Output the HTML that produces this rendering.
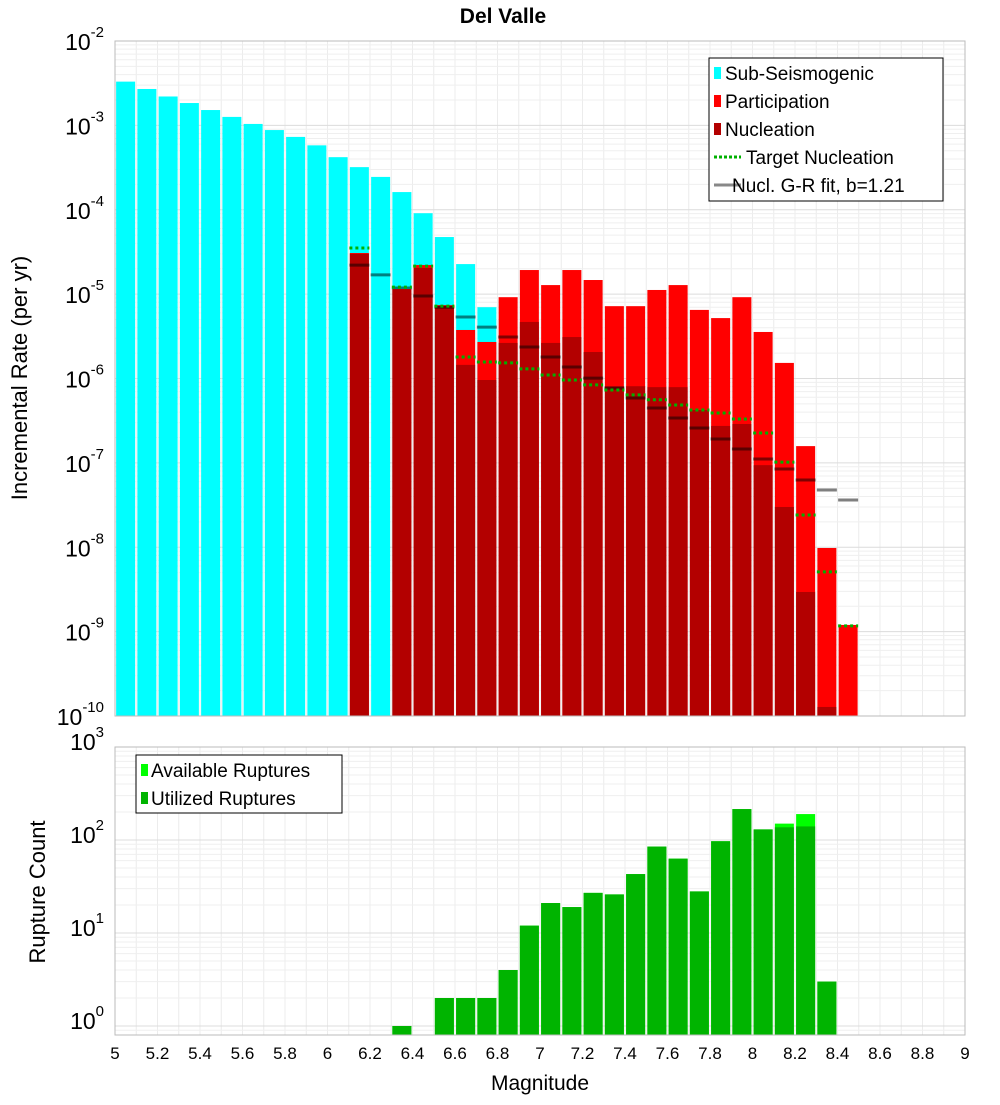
<!DOCTYPE html>
<html><head><meta charset="utf-8"><style>
html,body{margin:0;padding:0;background:#fff;}
svg text{font-family:"Liberation Sans","DejaVu Sans",sans-serif;}
</style></head><body>
<svg id="chart" width="1000" height="1100" viewBox="0 0 1000 1100" xmlns="http://www.w3.org/2000/svg">
<text x="503" y="23" text-anchor="middle" font-size="21" font-weight="bold">Del Valle</text>
<g id="topPlot"></g><g id="botPlot"></g>
<text transform="translate(27,378) rotate(-90)" text-anchor="middle" font-size="22">Incremental Rate (per yr)</text>
<text transform="translate(45,892) rotate(-90)" text-anchor="middle" font-size="22">Rupture Count</text>
<text x="540" y="1090" text-anchor="middle" font-size="21">Magnitude</text>
</svg>
<script>
const subMags=[5.05,5.15,5.25,5.35,5.45,5.55,5.65,5.75,5.85,5.95,6.05,6.15,6.25,6.35,6.45,6.55,6.65,6.75];
const subRates=[3.3e-3,2.7e-3,2.2e-3,1.84e-3,1.52e-3,1.26e-3,1.04e-3,8.8e-4,7.3e-4,5.8e-4,4.2e-4,3.2e-4,2.45e-4,1.62e-4,9.1e-5,4.75e-5,2.27e-5,7.0e-6];
const partMags=[6.15,6.35,6.45,6.55,6.65,6.75,6.85,6.95,7.05,7.15,7.25,7.35,7.45,7.55,7.65,7.75,7.85,7.95,8.05,8.15,8.25,8.35,8.45];
const partRates=[3.07e-5,1.15e-5,2.21e-5,7.4e-6,3.76e-6,2.71e-6,9.2e-6,1.93e-5,1.28e-5,1.93e-5,1.47e-5,7.2e-6,7.2e-6,1.12e-5,1.28e-5,6.5e-6,5.2e-6,9.2e-6,3.56e-6,1.53e-6,1.58e-7,9.8e-9,1.2e-9];
const nuclMags=[6.15,6.35,6.45,6.55,6.65,6.75,6.85,6.95,7.05,7.15,7.25,7.35,7.45,7.55,7.65,7.75,7.85,7.95,8.05,8.15,8.25,8.35];
const nuclRates=[3.0e-5,1.12e-5,2.04e-5,7.2e-6,1.45e-6,9.6e-7,2.64e-6,4.68e-6,2.64e-6,3.1e-6,2.06e-6,8.1e-7,8.1e-7,7.9e-7,7.9e-7,4.23e-7,2.74e-7,2.89e-7,9.4e-8,3.0e-8,2.95e-9,1.28e-10];
const targetMags=partMags;
const targetRates=[3.52e-5,1.21e-5,2.15e-5,7.2e-6,1.8e-6,1.57e-6,1.53e-6,1.3e-6,1.1e-6,9.6e-7,8.4e-7,7.3e-7,6.4e-7,5.6e-7,4.85e-7,4.23e-7,3.9e-7,3.31e-7,2.26e-7,1.02e-7,2.41e-8,5.1e-9,1.17e-9];
const grMags=[6.15,6.25,6.35,6.45,6.55,6.65,6.75,6.85,6.95,7.05,7.15,7.25,7.35,7.45,7.55,7.65,7.75,7.85,7.95,8.05,8.15,8.25,8.35,8.45];
const grRates=[2.21e-5,1.69e-5,1.18e-5,9.5e-6,7.0e-6,5.35e-6,4.07e-6,3.1e-6,2.36e-6,1.8e-6,1.37e-6,1.01e-6,7.7e-7,5.87e-7,4.47e-7,3.4e-7,2.59e-7,1.92e-7,1.46e-7,1.11e-7,8.45e-8,6.26e-8,4.77e-8,3.63e-8];
const cntMags=[6.35,6.55,6.65,6.75,6.85,6.95,7.05,7.15,7.25,7.35,7.45,7.55,7.65,7.75,7.85,7.95,8.05,8.15,8.25,8.35];
const availCounts=[1,2,2,2,4,12,21,19,27,26,43,85,63,28,97,215,130,150,190,3];
const usedCounts=[1,2,2,2,4,12,21,19,27,26,43,85,63,28,97,215,130,137,140,3];
const xTicks=[5,5.2,5.4,5.6,5.8,6,6.2,6.4,6.6,6.8,7,7.2,7.4,7.6,7.8,8,8.2,8.4,8.6,8.8,9];
const topExps=[-2,-3,-4,-5,-6,-7,-8,-9,-10];
const botExps=[3,2,1,0];

const NS="http://www.w3.org/2000/svg";
const L=115,R=965;
const X=m=>L+(m-5)*(R-L)/4;
const TT=41,TB=716;
const Yt=v=>TT+(-2-Math.log10(v))*(TB-TT)/8;
const BT=747,BB=1035;
const Yb=v=>1026-(Math.log10(v))*93;
function mk(p,tag,a){const e=document.createElementNS(NS,tag);for(const k in a)e.setAttribute(k,a[k]);p.appendChild(e);return e;}
const gTop=document.getElementById('topPlot'),gBot=document.getElementById('botPlot');



function frame(g,yT,yB,Yf,lo,hi){
  mk(g,'rect',{x:L,y:yT,width:R-L,height:yB-yT,fill:'#fff'});
  for(let i=0;i<=40;i++){const x=X(5+i*0.1);mk(g,'line',{x1:x,x2:x,y1:yT,y2:yB,stroke:'#ececec','stroke-width':1});}
  for(let e=lo;e<hi;e++){for(let k=1;k<10;k++){const y=Yf(k*Math.pow(10,e));if(y<yT-0.5||y>yB+0.5)continue;mk(g,'line',{x1:L,x2:R,y1:y,y2:y,stroke:k==1?'#dcdcdc':'#efefef','stroke-width':1});}}
}
frame(gTop,TT,TB,Yt,-10,-1);
frame(gBot,BT,BB,Yb,-1,3);

const bw=19;
function bars(g,mags,vals,Yf,base,color,name){
  mags.forEach((m,i)=>{const y=Yf(vals[i]);const r=mk(g,'rect',{x:X(m)-bw/2,y:y,width:bw,height:Math.max(0,base-y),fill:color});
  
  });
}
bars(gTop,subMags,subRates,Yt,TB,'#00ffff','sub-seismogenic-bar');
bars(gTop,partMags,partRates,Yt,TB,'#ff0000','participation-bar');
bars(gTop,nuclMags,nuclRates,Yt,TB,'#b30000','nucleation-bar');
grMags.forEach((m,i)=>{const y=Yt(grRates[i]);const l=mk(gTop,'line',{x1:X(m)-10,x2:X(m)+10,y1:y,y2:y,stroke:'rgba(0,0,0,0.5)','stroke-width':3});

});
targetMags.forEach((m,i)=>{const y=Yt(targetRates[i]);const l=mk(gTop,'line',{x1:X(m)-10,x2:X(m)+10,y1:y,y2:y,stroke:'#00b000','stroke-width':3,'stroke-dasharray':'3,3'});

});

bars(gBot,cntMags,availCounts,Yb,BB,'#00ff00','available-ruptures-bar');
bars(gBot,cntMags,usedCounts,Yb,BB,'#00b400','utilized-ruptures-bar');

mk(gTop,'rect',{x:L,y:TT,width:R-L,height:TB-TT,fill:'none',stroke:'#bbb'});
mk(gBot,'rect',{x:L,y:BT,width:R-L,height:BB-BT,fill:'none',stroke:'#bbb'});

function ylab(g,y,e,name){const t=mk(g,'text',{x:104,y:y+9,'text-anchor':'end','font-size':23});
t.appendChild(document.createTextNode('10'));const s=mk(t,'tspan',{dy:-13,'font-size':15});s.textContent=String(e);

}
topExps.forEach(e=>ylab(gTop,Yt(Math.pow(10,e)),e,'y-tick-top'));
botExps.forEach(e=>ylab(gBot,Yb(Math.pow(10,e))-6,e,'y-tick-bottom'));
xTicks.forEach(m=>{const t=mk(gBot,'text',{x:X(m),y:1059,'text-anchor':'middle','font-size':17});t.textContent=String(m);

});

const lg=mk(gTop,'g',{});


mk(lg,'rect',{x:709,y:58,width:234,height:143,fill:'#fff',stroke:'#000'});
const items=[['Sub-Seismogenic','#00ffff','box'],['Participation','#ff0000','box'],['Nucleation','#b30000','box'],['Target Nucleation','#00b000','dash'],['Nucl. G-R fit, b=1.21','#888','line']];
items.forEach((it,i)=>{const y=73+i*28;
 if(it[2]=='box')mk(lg,'rect',{x:714,y:y-6,width:7,height:12,fill:it[1]});
 else mk(lg,'line',{x1:714,x2:741,y1:y,y2:y,stroke:it[1],'stroke-width':3,'stroke-dasharray':it[2]=='dash'?'3,2':'none'});
 const t=mk(lg,'text',{x:it[2]=='box'?725:(it[2]=='dash'?746:732),y:y+7,'font-size':19});t.textContent=it[0];
 
 });
const lb=mk(gBot,'g',{});


mk(lb,'rect',{x:136,y:755,width:206,height:58,fill:'#fff',stroke:'#000'});
[['Available Ruptures','#00ff00'],['Utilized Ruptures','#00b400']].forEach((it,i)=>{const y=770+i*28;
 mk(lb,'rect',{x:141,y:y-6,width:7,height:12,fill:it[1]});
 const t=mk(lb,'text',{x:151,y:y+7,'font-size':19});t.textContent=it[0];
 
 });
</script>
</body></html>
